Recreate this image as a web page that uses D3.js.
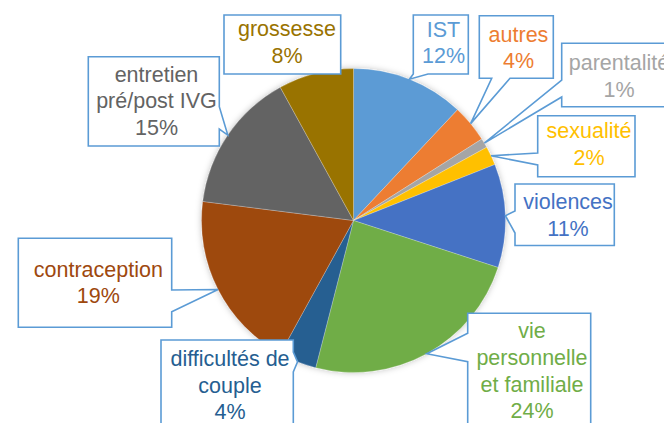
<!DOCTYPE html>
<html>
<head>
<meta charset="utf-8">
<script src="https://cdn.jsdelivr.net/npm/d3@7"></script>
<style>
  html, body { margin: 0; padding: 0; background: #fff; }
  svg { display: block; font-family: "Liberation Sans", Arial, sans-serif; }
</style>
</head>
<body>
<svg width="664" height="423"></svg>
<script>
// Données du graphique (ordre horaire à partir de midi)
const categories = [
    "IST", "autres", "parentalité", "sexualité", "violences",
    "vie personnelle et familiale", "difficultés de couple",
    "contraception", "entretien pré/post IVG", "grossesse"
];
const values = [12, 4, 1, 2, 11, 24, 4, 19, 15, 8];
const labelLines = [
    ["IST"], ["autres"], ["parentalité"], ["sexualité"], ["violences"],
    ["vie", "personnelle", "et familiale"], ["difficultés de", "couple"],
    ["contraception"], ["entretien", "pré/post IVG"], ["grossesse"]
];
const colors = [
    "#5B9BD5", "#ED7D31", "#A5A5A5", "#FFC000", "#4472C4",
    "#70AD47", "#255E91", "#9E480E", "#636363", "#997300"
];

// Placement des bulles (x, y, w, h, côté de la pointe, base de la pointe)
const callouts = [
    { box: [413.3, 15, 55, 59], side: "bottom", base: [428, 413.3], tx: 443.5, ty: 36.6 },
    { box: [479.3, 15.7, 74, 62.6], side: "bottom", base: [510, 491.7], tx: 518.5, ty: 41.7 },
    { box: [561.7, 43.3, 115, 63.4], side: "left", base: [97, 80], tx: 619, ty: 70 },
    { box: [537.7, 115.7, 97.3, 61], side: "left", base: [165, 153], tx: 589, ty: 138.3 },
    { box: [515, 184, 99.3, 61.5], side: "left", base: [233, 211], tx: 568, ty: 209.3 },
    { box: [467.7, 313.3, 123, 130], side: "left", base: [361.7, 333.3], tx: 532, ty: 338.3 },
    { box: [161, 340, 132.3, 100], side: "right", base: [352, 372], tx: 230, ty: 366 },
    { box: [18.3, 238.3, 153.4, 89], side: "right", base: [290, 311.7], tx: 98.3, ty: 276.7 },
    { box: [88.3, 56.7, 131, 89.3], side: "right", base: [106.7, 129], tx: 156.5, ty: 81.7 },
    { box: [224, 15, 116.7, 59], side: null, base: null, tx: 287, ty: 36 }
];

const svg = d3.select("svg");
const cx = 353.5, cy = 220.5, radius = 152;
const fontSize = 21.5, lineHeight = 26.7;

const defs = svg.append("defs");
const shadow = defs.append("filter")
    .attr("id", "pie-shadow")
    .attr("x", "-20%").attr("y", "-20%")
    .attr("width", "140%").attr("height", "140%");
shadow.append("feDropShadow")
    .attr("dx", 0).attr("dy", 0)
    .attr("stdDeviation", 3)
    .attr("flood-color", "#000")
    .attr("flood-opacity", 0.25);

const pie = d3.pie().sort(null).value(d => d)(values);
const arc = d3.arc().innerRadius(0).outerRadius(radius);
const edgeArc = d3.arc().innerRadius(radius).outerRadius(radius);

const pieGroup = svg.append("g")
    .attr("transform", `translate(${cx}, ${cy})`)
    .attr("filter", "url(#pie-shadow)");

pieGroup.selectAll("path")
    .data(pie)
    .enter()
    .append("path")
    .attr("d", arc)
    .attr("fill", (d, i) => colors[i])
    .attr("stroke", "#fff")
    .attr("stroke-opacity", 0.4)
    .attr("stroke-width", 0.6);

// Chemin d'une bulle avec sa pointe vers le bord de la part
function calloutPath(c, tip) {
    const [x, y, w, h] = c.box;
    const x2 = x + w, y2 = y + h;
    let p = `M${x},${y} L${x2},${y}`;
    if (c.side === "right") {
        p += ` L${x2},${c.base[0]} L${tip[0]},${tip[1]} L${x2},${c.base[1]}`;
    }
    p += ` L${x2},${y2}`;
    if (c.side === "bottom") {
        p += ` L${c.base[0]},${y2} L${tip[0]},${tip[1]} L${c.base[1]},${y2}`;
    }
    p += ` L${x},${y2}`;
    if (c.side === "left") {
        p += ` L${x},${c.base[0]} L${tip[0]},${tip[1]} L${x},${c.base[1]}`;
    }
    return p + " Z";
}

const labelGroup = svg.append("g");

pie.forEach((d, i) => {
    const c = callouts[i];
    const t = edgeArc.centroid(d);
    const tip = [cx + t[0], cy + t[1]];

    labelGroup.append("path")
        .attr("d", calloutPath(c, tip))
        .attr("fill", "#fff")
        .attr("stroke", "#5B9BD5")
        .attr("stroke-width", 1.6)
        .attr("stroke-linejoin", "miter");

    const lines = labelLines[i].concat([values[i] + "%"]);
    const text = labelGroup.append("text")
        .attr("text-anchor", "middle")
        .attr("font-size", fontSize)
        .attr("fill", colors[i]);

    text.selectAll("tspan")
        .data(lines)
        .enter()
        .append("tspan")
        .attr("x", c.tx)
        .attr("y", (l, k) => c.ty + k * lineHeight)
        .text(l => l);
});
</script>
</body>
</html>
